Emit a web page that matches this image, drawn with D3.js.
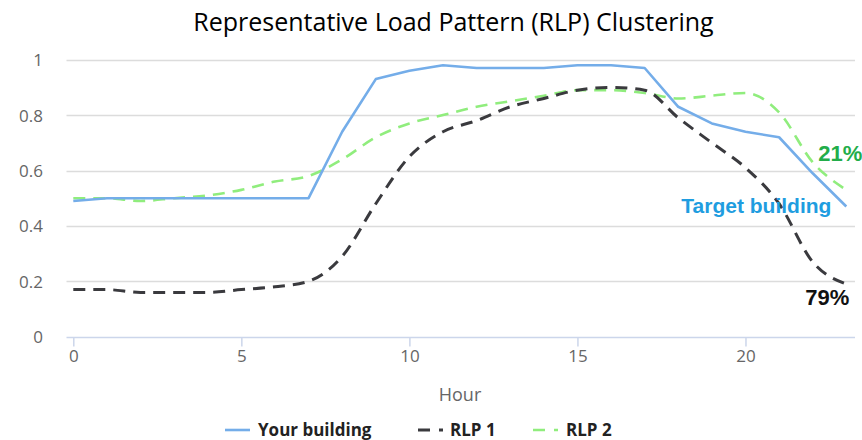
<!DOCTYPE html>
<html>
<head>
<meta charset="utf-8">
<script src="https://cdn.jsdelivr.net/npm/d3@7"></script>
<style>
  html, body { margin: 0; padding: 0; background: #fff; }
  svg { display: block; }
</style>
</head>
<body>
<svg id="chart" width="862" height="440"></svg>
<script>
// ---- data ----
const hours = d3.range(0, 24);
const yourBuilding = [0.49, 0.50, 0.50, 0.50, 0.50, 0.50, 0.50, 0.50, 0.74, 0.93, 0.96, 0.98,
                      0.97, 0.97, 0.97, 0.98, 0.98, 0.97, 0.83, 0.77, 0.74, 0.72, 0.59, 0.47];
const rlp1 = [0.17, 0.17, 0.16, 0.16, 0.16, 0.17, 0.18, 0.20, 0.29, 0.48, 0.65, 0.74,
              0.78, 0.83, 0.86, 0.89, 0.90, 0.89, 0.79, 0.70, 0.61, 0.48, 0.27, 0.19];
const rlp2 = [0.50, 0.50, 0.49, 0.50, 0.51, 0.53, 0.56, 0.58, 0.64, 0.72, 0.77, 0.80,
              0.83, 0.85, 0.87, 0.89, 0.89, 0.88, 0.86, 0.87, 0.88, 0.81, 0.63, 0.53];
const seriesNames = ["Your building", "RLP 1", "RLP 2"];
const xTicks = [0, 5, 10, 15, 20];
const yTicks = [0, 0.2, 0.4, 0.6, 0.8, 1];
const titleText = "Representative Load Pattern (RLP) Clustering";
const xAxisTitle = "Hour";
const annotations = [
  { text: "21%", hour: 23, value: 0.53 },
  { text: "Target building", hour: 23, value: 0.47 },
  { text: "79%", hour: 23, value: 0.19 }
];

// ---- styles ----
const colors = ["#74ade9", "#3a3a3e", "#90ed7d"];
const widths = [2.6, 3, 2.6];
const dashes = [null, "12,8", "12,8"];
const curves = [d3.curveLinear, d3.curveMonotoneX, d3.curveMonotoneX];
const annColors = ["#22ad4a", "#1f9de0", "#111"];
const font = "'Open Sans', 'Noto Sans', sans-serif";

const svg = d3.select("#chart");
const plotLeft = 66.5, plotRight = 855;
const x = d3.scaleLinear().domain([0, 23]).range([73.3, 846.3]);
const y = d3.scaleLinear().domain([0, 1]).range([336.7, 59.7]);

// title
svg.append("text")
  .attr("x", 453.5).attr("y", 31)
  .attr("text-anchor", "middle")
  .style("font-family", "'Open Sans', sans-serif")
  .style("font-size", "25px")
  .style("fill", "#000")
  .text(titleText);

// gridlines
svg.append("g").selectAll("line").data(yTicks.filter(d => d > 0)).join("line")
  .attr("x1", plotLeft).attr("x2", plotRight)
  .attr("y1", d => Math.round(y(d)) + 0.5).attr("y2", d => Math.round(y(d)) + 0.5)
  .attr("stroke", "#dcdcdc").attr("stroke-width", 1.5);

// y labels
const yAxis = d3.axisLeft(y).tickValues(yTicks).tickSize(0).tickPadding(0)
  .tickFormat(d => d3.format("~g")(d));
const gy = svg.append("g").attr("transform", "translate(43,0)").call(yAxis);
gy.select(".domain").remove();
gy.selectAll("text")
  .style("font-family", font).style("font-size", "17px").style("fill", "#666")
  .attr("dy", "0.35em");

// x axis
const xAxis = d3.axisBottom(x).tickValues(xTicks).tickSize(9).tickPadding(3)
  .tickFormat(d3.format("d"));
const gx = svg.append("g").attr("transform", `translate(0,${Math.round(y(0)) + 0.5})`).call(xAxis);
gx.select(".domain").attr("d", `M${plotLeft},0H${plotRight}`).attr("stroke", "#ccd6eb").attr("stroke-width", 1.5);
gx.selectAll(".tick line").attr("stroke", "#ccd6eb").attr("stroke-width", 1.5);
gx.selectAll("text")
  .style("font-family", font).style("font-size", "17px").style("fill", "#666");

// x axis title
svg.append("text")
  .attr("x", 460).attr("y", 401)
  .attr("text-anchor", "middle")
  .style("font-family", font).style("font-size", "18px").style("fill", "#666")
  .text(xAxisTitle);

// lines
const allSeries = [yourBuilding, rlp1, rlp2];
const order = [2, 1, 0];
order.forEach(i => {
  const line = d3.line()
    .x((d, k) => x(hours[k]))
    .y(d => y(d))
    .curve(curves[i]);
  svg.append("path")
    .datum(allSeries[i])
    .attr("d", line)
    .attr("fill", "none")
    .attr("stroke", colors[i])
    .attr("stroke-width", widths[i])
    .attr("stroke-dasharray", dashes[i])
    .attr("stroke-linejoin", "round");
});

// annotations
const annPos = [
  { dx: -28, dy: -29, anchor: "start", size: 22 },
  { dx: -165, dy: 6, anchor: "start", size: 21 },
  { dx: -41, dy: 21, anchor: "start", size: 22 }
];
annotations.forEach((a, i) => {
  svg.append("text")
    .attr("x", x(a.hour) + annPos[i].dx)
    .attr("y", y(a.value) + annPos[i].dy)
    .attr("text-anchor", annPos[i].anchor)
    .style("font-family", "'Liberation Sans', Arial, sans-serif")
    .style("font-weight", "bold")
    .style("font-size", annPos[i].size + "px")
    .style("fill", annColors[i])
    .text(a.text);
});

// legend
const legendItems = [
  { sx: 225, tx: 258 },
  { sx: 418, tx: 450 },
  { sx: 533, tx: 566 }
];
const lg = svg.append("g");
seriesNames.forEach((name, i) => {
  lg.append("line")
    .attr("x1", legendItems[i].sx).attr("x2", legendItems[i].sx + 25)
    .attr("y1", 430).attr("y2", 430)
    .attr("stroke", colors[i]).attr("stroke-width", widths[i])
    .attr("stroke-dasharray", dashes[i] ? "12,9" : null);
  lg.append("text")
    .attr("x", legendItems[i].tx).attr("y", 436)
    .style("font-family", font).style("font-weight", "bold")
    .style("font-size", "17px").style("fill", "#222")
    .text(name);
});
</script>
</body>
</html>
